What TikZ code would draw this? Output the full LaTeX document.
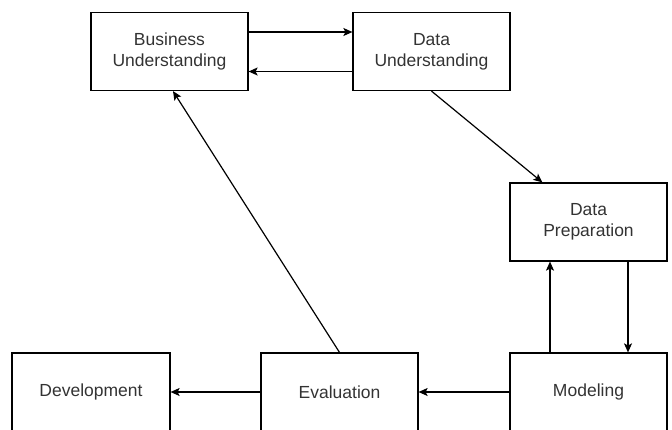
\documentclass[tikz,border=0pt]{standalone}
\usepackage{fontspec}
\setmainfont{Liberation Sans}
\usetikzlibrary{arrows.meta,calc}

\tikzset{
    phase/.style={draw, line width=1.2pt, minimum width=157pt, minimum height=78pt,
        inner sep=0pt, align=center, text=black!80,
        font=\fontsize{17.5}{21}\selectfont},
    flow/.style={line width=1.2pt, -{Stealth[length=9pt,width=8pt,inset=2pt]}}
}

\begin{document}
\begin{tikzpicture}[x=1pt,y=-1pt]
        \clip (0,0) rectangle (672,429);

        \coordinate (BU) at (169.5,51.5);
        \coordinate (DU) at (431.5,51.5);
        \coordinate (DP) at (588.5,222);
        \coordinate (MO) at (588.5,392);
        \coordinate (EV) at (339.5,392);
        \coordinate (DE) at (91,392);

        \node [phase] (bu) at (BU) {Business\\Understanding};
        \node [phase] (du) at (DU) {Data\\Understanding};
        \node [phase] (dp) at (DP) {Data\\Preparation};
        \node [phase] (mo) at (MO) {Modeling};
        \node [phase] (ev) at (EV) {Evaluation};
        \node [phase, minimum width=158pt] (de) at (DE) {Development};

        \draw [flow] ($(bu.east)+(0,-19.5)$) -- ($(du.west)+(0,-19.5)$);
        \draw [flow] ($(du.west)+(0,20)$) -- ($(bu.east)+(0,20)$);
        \draw [flow] (du.south) -- ($(dp.north west)+(33,0)$);
        \draw [flow] ($(dp.south)+(39.5,0)$) -- ($(mo.north)+(39.5,0)$);
        \draw [flow] ($(mo.north)+(-38.5,0)$) -- ($(dp.south)+(-38.5,0)$);
        \draw [flow] (mo.west) -- (ev.east);
        \draw [flow] (ev.west) -- (de.east);
        \draw [flow] (ev.north) -- ($(bu.south)+(3.5,0)$);
    \end{tikzpicture}
\end{document}
